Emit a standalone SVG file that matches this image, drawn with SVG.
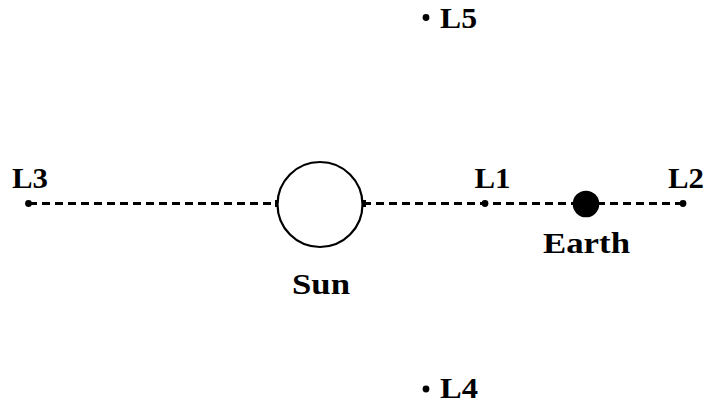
<svg xmlns="http://www.w3.org/2000/svg" width="706" height="404" viewBox="0 0 706 404">
<style>
.lbl{font-family:"Liberation Serif","DejaVu Serif",serif;font-weight:bold;font-size:30px;fill:#000}
.dash{stroke:#000;stroke-width:2.8;stroke-dasharray:8 5;fill:none}
.pt{fill:#000}
</style>
<rect width="706" height="404" fill="#fff"/>
<g id="connectors">
<line class="dash" x1="29" y1="203.5" x2="277" y2="203.5"/>
<line class="dash" x1="363" y1="203.5" x2="683" y2="203.5"/>
<rect x="275" y="200" width="4" height="7" class="pt"/>
<rect x="362" y="200" width="4" height="7" class="pt"/>
</g>
<g id="sun">
<circle cx="320" cy="204.5" r="42.5" fill="#fff" stroke="#000" stroke-width="2.2"/>
<text class="lbl" x="321" y="294" text-anchor="middle" textLength="58" lengthAdjust="spacingAndGlyphs">Sun</text>
</g>
<g id="earth">
<circle cx="586" cy="204" r="13.3" class="pt"/>
<text class="lbl" x="586.5" y="253" text-anchor="middle" textLength="87" lengthAdjust="spacingAndGlyphs">Earth</text>
</g>
<g id="L1">
<circle cx="485" cy="203.5" r="3.4" class="pt"/>
<text class="lbl" x="492.5" y="187.5" text-anchor="middle" textLength="36" lengthAdjust="spacingAndGlyphs">L1</text>
</g>
<g id="L2">
<circle cx="683" cy="203.5" r="3.4" class="pt"/>
<text class="lbl" x="686" y="187.5" text-anchor="middle" textLength="36" lengthAdjust="spacingAndGlyphs">L2</text>
</g>
<g id="L3">
<circle cx="28.5" cy="203.5" r="3.4" class="pt"/>
<text class="lbl" x="30" y="187.5" text-anchor="middle" textLength="36" lengthAdjust="spacingAndGlyphs">L3</text>
</g>
<g id="L5">
<circle cx="426" cy="17.5" r="3.4" class="pt"/>
<text class="lbl" x="440" y="27.5" textLength="37" lengthAdjust="spacingAndGlyphs">L5</text>
</g>
<g id="L4">
<circle cx="426" cy="389" r="3.4" class="pt"/>
<text class="lbl" x="440" y="398" textLength="38" lengthAdjust="spacingAndGlyphs">L4</text>
</g>
</svg>
